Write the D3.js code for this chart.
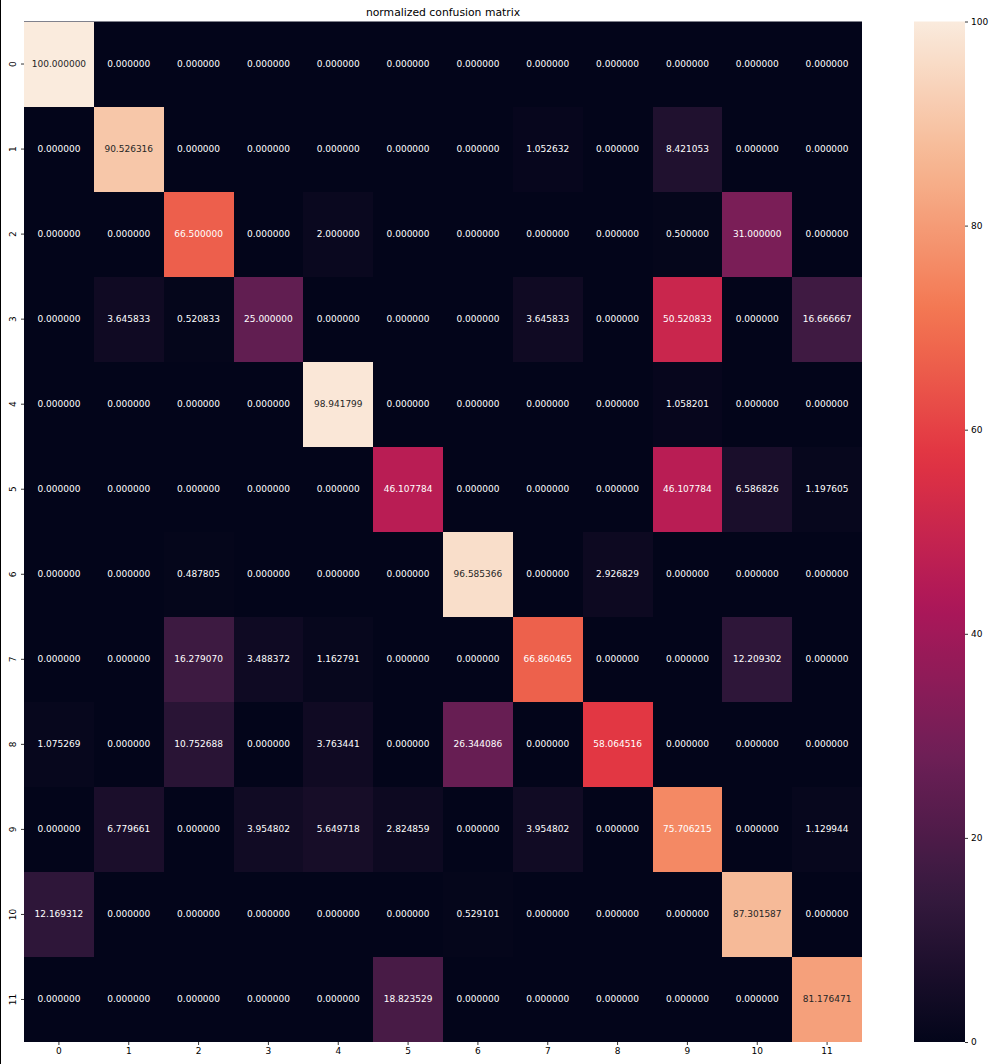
<!DOCTYPE html>
<html>
<head>
<meta charset="utf-8">
<script src="https://cdn.jsdelivr.net/npm/d3@7"></script>
<style>
  html, body { margin: 0; padding: 0; background: #fff; }
  svg { display: block; }
  text { font-family: "DejaVu Sans", sans-serif; }
</style>
</head>
<body>
<svg id="chart" width="995" height="1064"></svg>
<script>
// ---- data ----
const rowLabels = ["0","1","2","3","4","5","6","7","8","9","10","11"];
const colLabels = ["0","1","2","3","4","5","6","7","8","9","10","11"];
const title = "normalized confusion matrix";
const row0  = [100, 0, 0, 0, 0, 0, 0, 0, 0, 0, 0, 0];
const row1  = [0, 90.526316, 0, 0, 0, 0, 0, 1.052632, 0, 8.421053, 0, 0];
const row2  = [0, 0, 66.5, 0, 2, 0, 0, 0, 0, 0.5, 31, 0];
const row3  = [0, 3.645833, 0.520833, 25, 0, 0, 0, 3.645833, 0, 50.520833, 0, 16.666667];
const row4  = [0, 0, 0, 0, 98.941799, 0, 0, 0, 0, 1.058201, 0, 0];
const row5  = [0, 0, 0, 0, 0, 46.107784, 0, 0, 0, 46.107784, 6.586826, 1.197605];
const row6  = [0, 0, 0.487805, 0, 0, 0, 96.585366, 0, 2.926829, 0, 0, 0];
const row7  = [0, 0, 16.27907, 3.488372, 1.162791, 0, 0, 66.860465, 0, 0, 12.209302, 0];
const row8  = [1.075269, 0, 10.752688, 0, 3.763441, 0, 26.344086, 0, 58.064516, 0, 0, 0];
const row9  = [0, 6.779661, 0, 3.954802, 5.649718, 2.824859, 0, 3.954802, 0, 75.706215, 0, 1.129944];
const row10 = [12.169312, 0, 0, 0, 0, 0, 0.529101, 0, 0, 0, 87.301587, 0];
const row11 = [0, 0, 0, 0, 0, 18.823529, 0, 0, 0, 0, 0, 81.176471];
const matrix = [row0,row1,row2,row3,row4,row5,row6,row7,row8,row9,row10,row11];
const cbarTicks = [0, 20, 40, 60, 80, 100];

// rocket colormap anchor colors
const rocketStops = ["#03051a","#35193e","#701f57","#ad1759","#e13342","#f37651","#f6b48f","#faebdd"];
const rocket = d3.scaleLinear()
  .domain(rocketStops.map((d,i)=>i/(rocketStops.length-1)))
  .range(rocketStops)
  .interpolate(d3.interpolateRgb);
const color = v => rocket(v/100);

// ---- layout ----
const L = 24, R = 862, T = 21.5, B = 1042;
const cbL = 914, cbR = 965;
const svg = d3.select("#chart");

// left edge artifact line
svg.append("rect").attr("x",0).attr("y",0).attr("width",1).attr("height",1064).attr("fill","#000");

const x = d3.scaleBand().domain(colLabels).range([L, R]);
const y = d3.scaleBand().domain(rowLabels).range([T, B]);

const cells = [];
matrix.forEach((row, i) => row.forEach((v, j) => cells.push({r: rowLabels[i], c: colLabels[j], v})));

// background in the zero colour so no seams show
svg.append("rect").attr("x", L).attr("y", T).attr("width", R-L).attr("height", B-T).attr("fill", color(0));

svg.append("g").attr("shape-rendering","crispEdges").selectAll("rect").data(cells).join("rect")
  .attr("x", d => Math.round(x(d.c))).attr("y", d => Math.round(y(d.r)))
  .attr("width", d => Math.round(x(d.c) + x.bandwidth()) - Math.round(x(d.c)))
  .attr("height", d => Math.round(y(d.r) + y.bandwidth()) - Math.round(y(d.r)))
  .attr("fill", d => color(d.v));

function lum(c) {
  const rgb = d3.rgb(c);
  const f = u => { u /= 255; return u <= 0.03928 ? u/12.92 : Math.pow((u+0.055)/1.055, 2.4); };
  return 0.2126*f(rgb.r) + 0.7152*f(rgb.g) + 0.0722*f(rgb.b);
}

svg.append("g").selectAll("text").data(cells).join("text")
  .attr("x", d => x(d.c) + x.bandwidth()/2)
  .attr("y", d => y(d.r) + y.bandwidth()/2)
  .attr("text-anchor", "middle").attr("dominant-baseline", "central")
  .attr("font-size", "9px")
  .attr("fill", d => lum(color(d.v)) > 0.408 ? "#262626" : "#ffffff")
  .text(d => d.v.toFixed(6));

// axes
const xAxis = svg.append("g").attr("transform", `translate(0,${B})`)
  .call(d3.axisBottom(x).tickSize(3).tickPadding(3));
xAxis.select(".domain").remove();
xAxis.selectAll("text").attr("font-size","9px").attr("fill","#000").attr("font-family","DejaVu Sans");
xAxis.selectAll("line").attr("stroke","#000").attr("stroke-width",0.8);

const yAxis = svg.append("g").attr("transform", `translate(${L},0)`)
  .call(d3.axisLeft(y).tickSize(3).tickPadding(3));
yAxis.select(".domain").remove();
yAxis.selectAll("line").attr("stroke","#000").attr("stroke-width",0.8);
yAxis.selectAll("text")
  .attr("font-size","9px").attr("fill","#000").attr("font-family","DejaVu Sans")
  .attr("x", null).attr("dy", null)
  .attr("text-anchor","middle").attr("dominant-baseline","central")
  .attr("transform","translate(-11,0) rotate(-90)");

// title
svg.append("text").attr("x", (L+R)/2).attr("y", 16)
  .attr("text-anchor","middle").attr("font-size","10.8px").attr("fill","#000")
  .text(title);

// colorbar
const defs = svg.append("defs");
const grad = defs.append("linearGradient").attr("id","cbgrad")
  .attr("x1","0").attr("y1","1").attr("x2","0").attr("y2","0");
d3.range(0, 1.0001, 0.02).forEach(t => {
  grad.append("stop").attr("offset", t).attr("stop-color", rocket(t));
});
const cy = d3.scaleLinear().domain([0,100]).range([B, T]);
svg.append("rect").attr("x", cbL).attr("y", T).attr("width", cbR-cbL).attr("height", B-T)
  .attr("fill","url(#cbgrad)");
const cAxis = svg.append("g").attr("transform", `translate(${cbR},0)`)
  .call(d3.axisRight(cy).tickValues(cbarTicks).tickSize(3).tickPadding(3));
cAxis.select(".domain").remove();
cAxis.selectAll("line").attr("stroke","#000").attr("stroke-width",0.8);
cAxis.selectAll("text").attr("font-size","9px").attr("fill","#000").attr("font-family","DejaVu Sans");
</script>
</body>
</html>
